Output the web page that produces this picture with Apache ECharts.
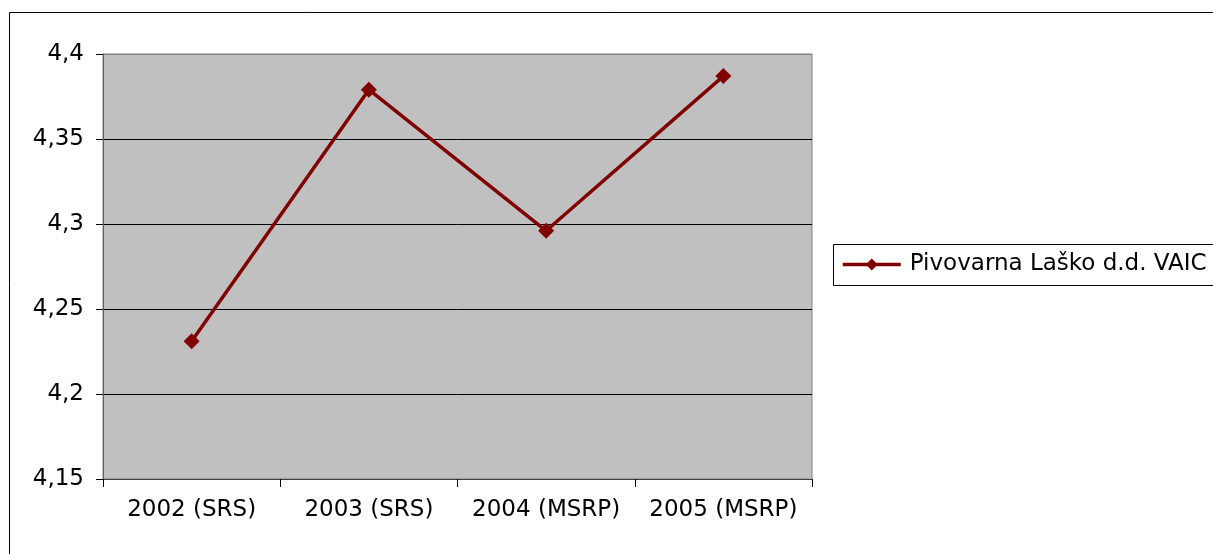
<!DOCTYPE html>
<html>
<head>
<meta charset="utf-8">
<script src="https://cdn.jsdelivr.net/npm/echarts@6/dist/echarts.min.js"></script>
<style>
  html, body { margin: 0; padding: 0; background: #fff; }
  #chart { width: 1213px; height: 554px; }
</style>
</head>
<body>
<div id="chart"></div>
<script>
// Reporting periods and accounting standard used
const categories = ['2002 (SRS)', '2003 (SRS)', '2004 (MSRP)', '2005 (MSRP)'];
// VAIC coefficient per year
const vaicValues = [4.231, 4.379, 4.296, 4.387];
const seriesName = 'Pivovarna Laško d.d. VAIC';
// Value axis range
const yMin = 4.15;
const yMax = 4.40;
const yStep = 0.05;

const FONT = 'DejaVu Sans';
const chart = echarts.init(document.getElementById('chart'), null, { renderer: 'canvas' });

chart.setOption({
  animation: false,
  backgroundColor: '#ffffff',
  textStyle: { fontFamily: FONT },
  grid: {
    left: 103, top: 54, right: 401, bottom: 75,
    show: true,
    backgroundColor: '#C0C0C0',
    borderColor: '#808080',
    borderWidth: 1
  },
  graphic: [
    {
      // outer frame of the chart area
      type: 'rect', silent: true, z: -1,
      shape: { x: 9.5, y: 12.5, width: 2000, height: 2000 },
      style: { fill: 'none', stroke: '#000', lineWidth: 1 }
    },
    {
      // legend frame
      type: 'rect', silent: true,
      shape: { x: 833.5, y: 244.5, width: 600, height: 41 },
      style: { fill: '#fff', stroke: '#000', lineWidth: 1 },
      z: 1
    }
  ],
  legend: {
    show: true,
    left: 841,
    top: 253,
    padding: 0,
    itemWidth: 58,
    itemHeight: 15,
    itemGap: 0,
    z: 5,
    lineStyle: { width: 3.5, color: '#800000' },
    textStyle: { fontFamily: FONT, fontSize: 23, color: '#000', padding: [0, 0, 0, 4] },
    data: [{ name: seriesName }]
  },
  xAxis: {
    type: 'category',
    data: categories,
    boundaryGap: true,
    axisLine: { show: true, lineStyle: { color: '#404040', width: 1 } },
    axisTick: { show: true, interval: 0, length: 8, inside: false, lineStyle: { color: '#000' } },
    axisLabel: { interval: 0, fontFamily: FONT, fontSize: 23, color: '#000', margin: 20 },
    splitLine: { show: false }
  },
  yAxis: {
    type: 'value',
    min: yMin,
    max: yMax,
    interval: yStep,
    axisLine: { show: true, lineStyle: { color: '#606060', width: 1 } },
    axisTick: { show: true, length: 7, inside: false, lineStyle: { color: '#000' } },
    axisLabel: {
      fontFamily: FONT, fontSize: 23, color: '#000', margin: 19,
      formatter: v => String(Math.round(v * 100) / 100).replace('.', ',')
    },
    splitLine: {
      show: true,
      lineStyle: { color: ['#000', '#000', '#000', '#000', '#000', '#808080'], width: 1 }
    }
  },
  series: [{
    name: seriesName,
    type: 'line',
    data: vaicValues,
    symbol: 'diamond',
    symbolSize: 16,
    lineStyle: { color: '#800000', width: 3.5 },
    itemStyle: { color: '#800000' },
    z: 3
  }]
});
</script>
</body>
</html>
